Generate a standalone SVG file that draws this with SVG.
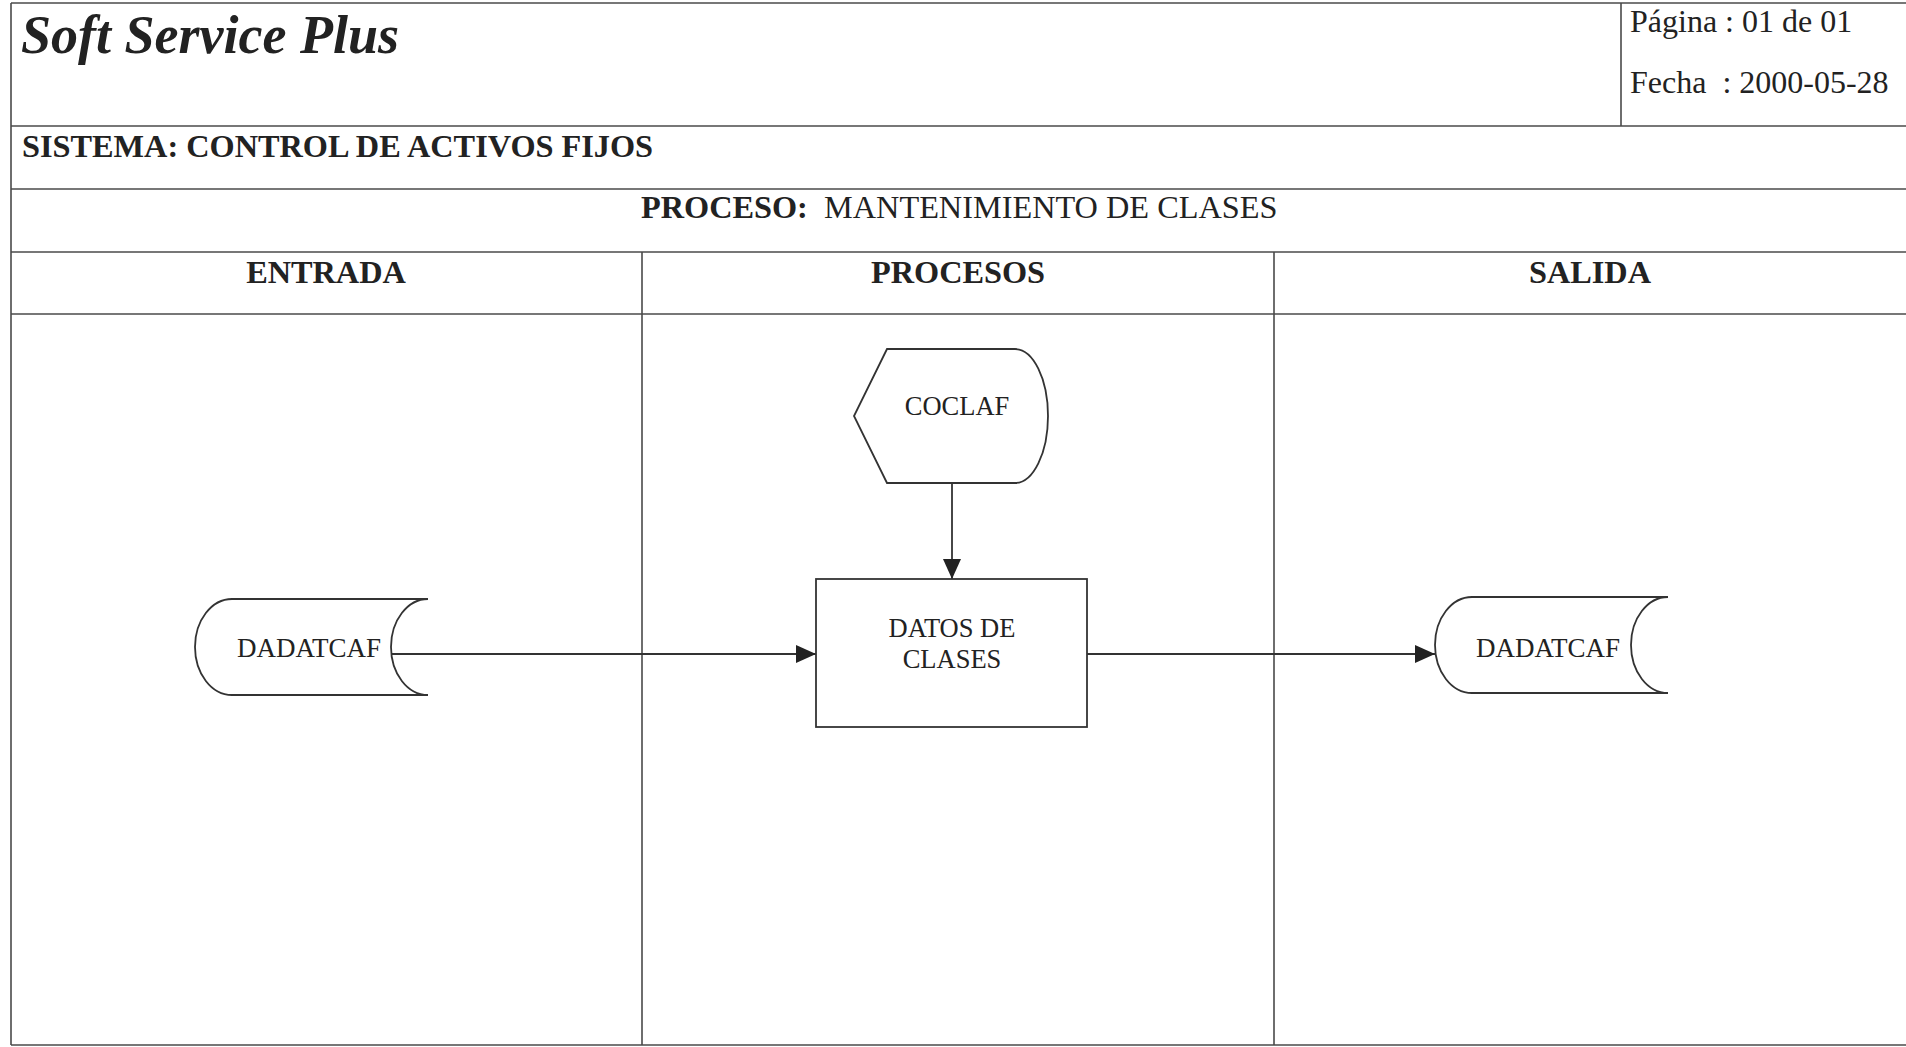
<svg xmlns="http://www.w3.org/2000/svg" width="1906" height="1047" viewBox="0 0 1906 1047">
<defs>
<style>
.grid{stroke:#4a4a4a;stroke-width:1.6;fill:none}
.shape{stroke:#333;stroke-width:1.8;fill:#fff}
.conn{stroke:#333;stroke-width:1.8;fill:none}
text{font-family:"Liberation Serif","Times New Roman",serif;fill:#222}
.hdr{font-size:32.3px;font-weight:bold}
.reg{font-size:32px}
.lbl{font-size:26.5px;text-anchor:middle}
.lbl2{font-size:27px;text-anchor:middle}
</style>
<marker id="arr" markerWidth="20" markerHeight="18" refX="20" refY="9" orient="auto" markerUnits="userSpaceOnUse">
<path d="M0,0 L20,9 L0,18 Z" fill="#222"/>
</marker>
</defs>
<rect width="1906" height="1047" fill="#fff"/>
<g id="table">
<line class="grid" x1="11" y1="3" x2="1906" y2="3"/>
<line class="grid" x1="11" y1="3" x2="11" y2="1045"/>
<line class="grid" x1="11" y1="126" x2="1906" y2="126"/>
<line class="grid" x1="1621" y1="3" x2="1621" y2="126"/>
<line class="grid" x1="11" y1="189" x2="1906" y2="189"/>
<line class="grid" x1="11" y1="252" x2="1906" y2="252"/>
<line class="grid" x1="11" y1="314" x2="1906" y2="314"/>
<line class="grid" x1="642" y1="252" x2="642" y2="1045"/>
<line class="grid" x1="1274" y1="252" x2="1274" y2="1045"/>
<line class="grid" x1="11" y1="1045" x2="1906" y2="1045"/>
<text x="21" y="53" style="font-size:54px;font-weight:bold;font-style:italic">Soft Service Plus</text>
<text class="reg" x="1630" y="32" style="white-space:pre">Página : 01 de 01</text>
<text class="reg" x="1630" y="93" style="white-space:pre">Fecha  : 2000-05-28</text>
<text class="hdr" x="22" y="157">SISTEMA: CONTROL DE ACTIVOS FIJOS</text>
<text class="reg" x="641" y="218" style="white-space:pre;font-size:32.3px"><tspan font-weight="bold">PROCESO:</tspan>  MANTENIMIENTO DE CLASES</text>
<text class="hdr" x="326" y="283" text-anchor="middle">ENTRADA</text>
<text class="hdr" x="958" y="283" text-anchor="middle">PROCESOS</text>
<text class="hdr" x="1590" y="283" text-anchor="middle">SALIDA</text>
</g>
<g id="connectors">
<line class="conn" x1="391" y1="654" x2="816" y2="654" marker-end="url(#arr)"/>
<line class="conn" x1="952" y1="483" x2="952" y2="579" marker-end="url(#arr)"/>
<line class="conn" x1="1087" y1="654" x2="1435" y2="654" marker-end="url(#arr)"/>
</g>
<g id="coclaf">
<path class="shape" d="M887 349 L1015 349 A33 67 0 0 1 1015 483 L887 483 L854 416 Z"/>
<text class="lbl" x="957" y="415">COCLAF</text>
</g>
<g id="datos-clases">
<rect class="shape" x="816" y="579" width="271" height="148"/>
<text class="lbl" x="952" y="637">DATOS DE</text>
<text class="lbl" x="952" y="668">CLASES</text>
</g>
<g id="dadatcaf-in">
<path class="shape" d="M232 599 L428 599 A37 48 0 0 0 428 695 L232 695 A37 48 0 0 1 232 599 Z"/>
<text class="lbl2" x="309" y="657">DADATCAF</text>
</g>
<g id="dadatcaf-out">
<path class="shape" d="M1472 597 L1668 597 A37 48 0 0 0 1668 693 L1472 693 A37 48 0 0 1 1472 597 Z"/>
<text class="lbl2" x="1548" y="657">DADATCAF</text>
</g>
</svg>
